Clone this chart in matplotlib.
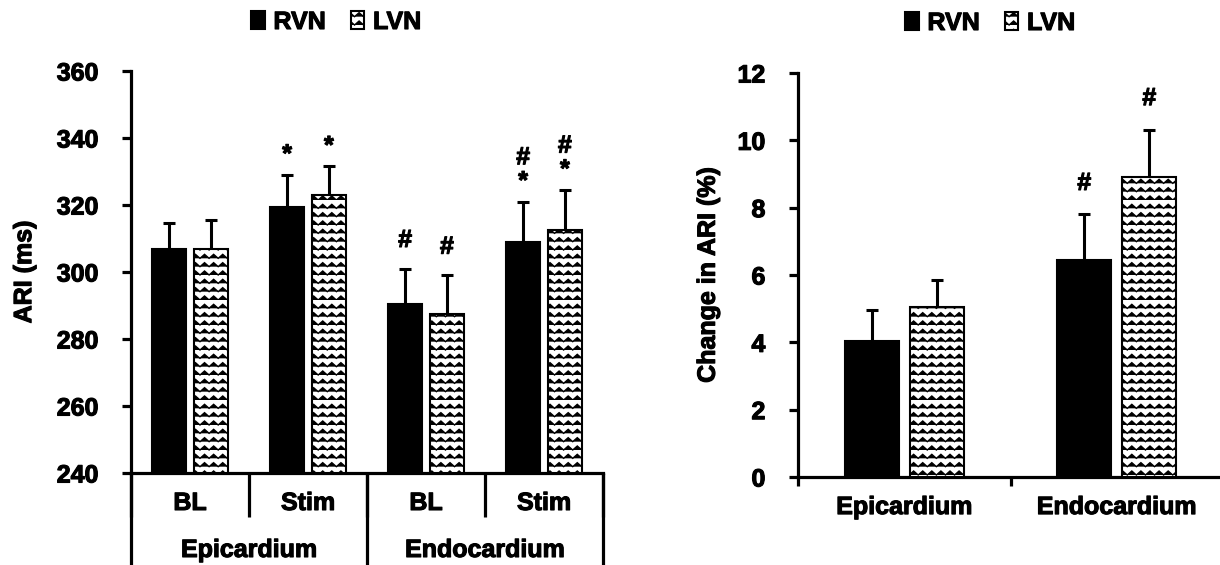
import numpy as np
import matplotlib
matplotlib.use("Agg")
import matplotlib.pyplot as plt
import matplotlib.patheffects as pe
from matplotlib import hatch as mhatch
from matplotlib.path import Path
from matplotlib.patches import Patch
from matplotlib.text import Text

# --- data ---
# left panel: ARI (ms)
stages = ["BL", "Stim", "BL", "Stim"]
layers = ["Epicardium", "Endocardium"]
ari_rvn = [307, 319.5, 290.5, 309]
ari_rvn_err = [7.5, 9.5, 10.5, 12]
ari_lvn = [307, 323, 287.5, 312.5]
ari_lvn_err = [8.5, 8.5, 11.5, 12]
ari_rvn_marks = ["", "*", "#", "#\n*"]
ari_lvn_marks = ["", "*", "#", "#\n*"]

# right panel: change in ARI (%)
chg_rvn = [4.05, 6.45]
chg_rvn_err = [0.92, 1.35]
chg_lvn = [5.05, 8.92]
chg_lvn_err = [0.8, 1.4]
chg_rvn_marks = ["", "#"]
chg_lvn_marks = ["", "#"]


# zigzag hatch (Excel style) in place of the small-circle hatch 'o'
class ZigzagHatch(mhatch.HatchPatternBase):
    def __init__(self, hatch, density):
        self.rows = hatch.count("o") * 12
        self.teeth = 11
        self.num_lines = self.rows
        self.num_vertices = self.rows * (2 * self.teeth + 1)

    def set_vertices_and_codes(self, vertices, codes):
        n = 2 * self.teeth + 1
        xs = np.linspace(0, 1, n)
        bump = np.where(np.arange(n) % 2 == 1, 0.04, 0.0)
        for r in range(self.rows):
            vertices[r * n:(r + 1) * n, 0] = xs
            vertices[r * n:(r + 1) * n, 1] = r / self.rows + bump
            codes[r * n:(r + 1) * n] = Path.LINETO
            codes[r * n] = Path.MOVETO


mhatch._hatch_types = [ZigzagHatch if t is mhatch.SmallCircles else t
                       for t in mhatch._hatch_types]

FS = 18
plt.rcParams["font.family"] = ["Liberation Sans", "DejaVu Sans"]
plt.rcParams["font.weight"] = "bold"
plt.rcParams["font.size"] = FS
plt.rcParams["hatch.linewidth"] = 1.0

fig = plt.figure(figsize=(12.2, 5.65), dpi=100)
axL = fig.add_axes([131 / 1220, 1 - 473 / 565, 472 / 1220, 402 / 565])
axR = fig.add_axes([798 / 1220, 1 - 477 / 565, 425 / 1220, 404 / 565])

lw_axis = 2.3


def style_axis(ax):
    for s in ["top", "right"]:
        ax.spines[s].set_visible(False)
    for s in ["left", "bottom"]:
        ax.spines[s].set_linewidth(lw_axis)
    ax.tick_params(axis="y", direction="out", length=6.5, width=lw_axis, pad=17)


def draw_bars(ax, x, rvn, rvn_err, lvn, lvn_err, w, off, base):
    ax.errorbar(x - off, rvn, yerr=rvn_err, fmt="none", ecolor="black",
                elinewidth=2.2, capsize=4, capthick=2.2, zorder=2)
    ax.errorbar(x + off, lvn, yerr=lvn_err, fmt="none", ecolor="black",
                elinewidth=2.2, capsize=4, capthick=2.2, zorder=2)
    ax.bar(x - off, np.array(rvn) - base, w, bottom=base, color="black",
           edgecolor="black", linewidth=1.5, zorder=3)
    ax.bar(x + off, np.array(lvn) - base, w, bottom=base, color="white",
           edgecolor="black", hatch="o", linewidth=1.5, zorder=3)


def draw_marks(ax, xs, tops, marks, dy_star, dy_hash):
    for xi, t, m in zip(xs, tops, marks):
        if not m:
            continue
        dy = dy_star if m.endswith("*") else dy_hash
        ax.annotate(m, (xi, t), xytext=(0, dy), textcoords="offset points",
                    ha="center", va="bottom", linespacing=1.0)


# ---- left panel ----
xL = np.arange(len(stages))
wL, offL = 0.285, 0.177
draw_bars(axL, xL, ari_rvn, ari_rvn_err, ari_lvn, ari_lvn_err, wL, offL, 240)
draw_marks(axL, xL - offL, np.add(ari_rvn, ari_rvn_err), ari_rvn_marks, 6, 12)
draw_marks(axL, xL + offL, np.add(ari_lvn, ari_lvn_err), ari_lvn_marks, 6, 12)
axL.set_xlim(-0.5, len(stages) - 0.5)
axL.set_ylim(240, 360)
axL.set_yticks(np.arange(240, 361, 20))
style_axis(axL)
axL.set_xticks([])
axL.set_ylabel("ARI (ms)", fontweight="bold")
axL.yaxis.set_label_coords(-0.201, 0.5)

trL = axL.get_xaxis_transform()
for xb in np.arange(-0.5, len(stages), 1.0):
    axL.plot([xb, xb], [0, -0.109], color="black", lw=lw_axis,
             transform=trL, clip_on=False, solid_capstyle="butt")
for xb in [-0.5, 1.5, 3.5]:
    axL.plot([xb, xb], [0, -0.235], color="black", lw=lw_axis,
             transform=trL, clip_on=False, solid_capstyle="butt")
for xi, s in zip(xL, stages):
    axL.text(xi, -0.0746, s, transform=trL, ha="center", va="center")
for gi, g in enumerate(layers):
    axL.text(2 * gi + 0.5, -0.1915, g, transform=trL, ha="center", va="center")

# ---- right panel ----
xR = np.arange(len(layers))
wR, offR = 0.253, 0.153
draw_bars(axR, xR, chg_rvn, chg_rvn_err, chg_lvn, chg_lvn_err, wR, offR, 0)
draw_marks(axR, xR - offR, np.add(chg_rvn, chg_rvn_err), chg_rvn_marks, 7, 14)
draw_marks(axR, xR + offR, np.add(chg_lvn, chg_lvn_err), chg_lvn_marks, 7, 14)
axR.set_xlim(-0.5, len(layers) - 0.5)
axR.set_ylim(0, 12)
axR.set_yticks(np.arange(0, 13, 2))
style_axis(axR)
axR.set_xticks(xR)
axR.set_xticklabels(layers)
axR.tick_params(axis="x", which="major", length=0, pad=13)
axR.set_xticks([-0.5, 0.5, 1.5], minor=True)
axR.tick_params(axis="x", which="minor", direction="out", length=6.5, width=lw_axis)
axR.set_ylabel("Change in ARI (%)", fontweight="bold")
axR.yaxis.set_label_coords(-0.184, 0.5)

# ---- legends ----
handles = [Patch(facecolor="black", edgecolor="black", linewidth=1.5),
           Patch(facecolor="white", edgecolor="black", hatch="o", linewidth=1.5)]
names = ["RVN", "LVN"]
for cx, cy in [(336 / 1220, 1 - 22 / 565), (990 / 1220, 1 - 23 / 565)]:
    fig.legend(handles, names, loc="center", bbox_to_anchor=(cx, cy), ncol=2,
               frameon=False, handlelength=0.55, handleheight=0.75,
               handletextpad=0.35, columnspacing=1.0, borderpad=0)

# heavier strokes on all text, like the original's chunky bold font
for t in fig.findobj(Text):
    t.set_path_effects([pe.withStroke(linewidth=0.8, foreground="black")])

fig.savefig("out.png", dpi=100)
